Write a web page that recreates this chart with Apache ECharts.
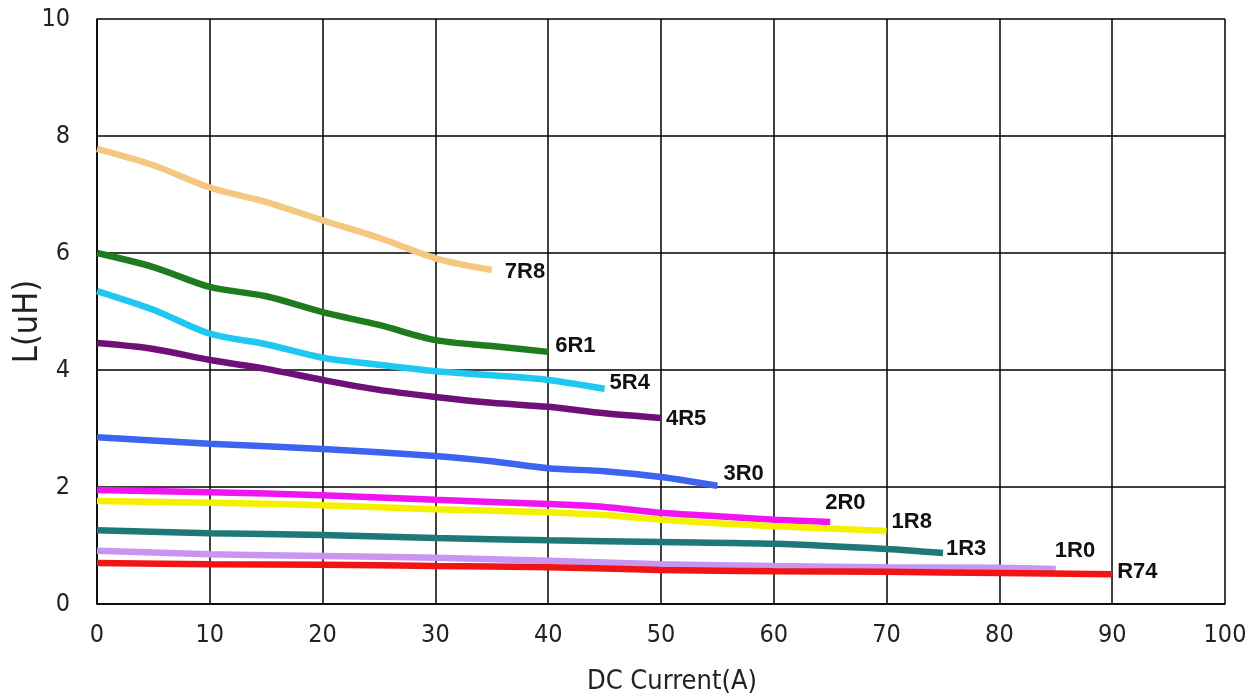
<!DOCTYPE html>
<html>
<head>
<meta charset="utf-8">
<script src="https://cdn.jsdelivr.net/npm/echarts@6/dist/echarts.min.js"></script>
<style>html,body{margin:0;padding:0;background:#fff;}#c{width:1251px;height:697px;}</style>
</head>
<body>
<div id="c"></div>
<script>
// ---- data ----
const seriesNames = ['7R8','6R1','5R4','4R5','3R0','2R0','1R8','1R3','1R0','R74'];
const s7R8 = [[0,7.78],[5,7.5],[10,7.12],[15,6.87],[20,6.56],[25,6.26],[30,5.91],[35,5.71]];
const s6R1 = [[0,6.0],[5,5.76],[10,5.42],[15,5.26],[20,4.99],[25,4.77],[30,4.51],[35,4.41],[40,4.31]];
const s5R4 = [[0,5.35],[5,5.03],[10,4.62],[15,4.44],[20,4.21],[25,4.09],[30,3.98],[35,3.91],[40,3.83],[45,3.68]];
const s4R5 = [[0,4.46],[5,4.36],[10,4.17],[15,4.02],[20,3.83],[25,3.66],[30,3.54],[35,3.44],[40,3.37],[45,3.26],[50,3.18]];
const s3R0 = [[0,2.85],[10,2.74],[20,2.65],[30,2.53],[35,2.44],[40,2.32],[45,2.27],[50,2.17],[55,2.02]];
const s2R0 = [[0,1.95],[10,1.91],[20,1.86],[30,1.78],[40,1.71],[45,1.66],[50,1.56],[55,1.50],[60,1.44],[65,1.40]];
const s1R8 = [[0,1.76],[10,1.73],[20,1.69],[30,1.62],[40,1.57],[45,1.52],[50,1.44],[60,1.33],[70,1.25]];
const s1R3 = [[0,1.26],[10,1.21],[20,1.18],[30,1.13],[40,1.09],[50,1.06],[60,1.03],[70,0.94],[75,0.87]];
const s1R0 = [[0,0.91],[10,0.85],[20,0.82],[30,0.79],[40,0.74],[50,0.68],[60,0.65],[70,0.63],[80,0.62],[85,0.60]];
const sR74 = [[0,0.70],[10,0.68],[20,0.67],[30,0.65],[40,0.63],[50,0.58],[60,0.56],[70,0.55],[80,0.53],[90,0.51]];
const seriesData = [s7R8,s6R1,s5R4,s4R5,s3R0,s2R0,s1R8,s1R3,s1R0,sR74];

// ---- styles ----
const colors = ['#F5C882','#1E7B1E','#1EC8F0','#6E1078','#3C64F0','#F014F0','#F5F000','#1E7878','#C896F0','#F01414'];
const labelOffsets = [[13,2],[7,-6],[5,-6],[5,1],[6,-12],[-5,-19],[5,-9],[3,-4],[-1,-18],[5,-2]];

const chart = echarts.init(document.getElementById('c'), null, {renderer:'canvas'});
const axisFont = "'DejaVu Sans Condensed','DejaVu Sans',sans-serif";
chart.setOption({
  backgroundColor:'#fff',
  animation:false,
  grid:{left:97, top:19, right:26, bottom:93, containLabel:false, outerBoundsMode:'none'},
  xAxis:{
    type:'value', min:0, max:100, interval:10,
    name:'DC Current(A)', nameLocation:'middle', nameGap:64, nameMoveOverlap:false,
    nameTextStyle:{fontFamily:axisFont, fontSize:27, color:'#222', padding:[0,0,0,22]},
    axisLine:{show:true, lineStyle:{color:'#000', width:1.5}},
    axisTick:{show:false},
    axisLabel:{fontFamily:axisFont, fontSize:25, color:'#222', margin:19},
    splitLine:{show:true, lineStyle:{color:'#000', width:1.5}}
  },
  yAxis:{
    type:'value', min:0, max:10, interval:2,
    name:'L(uH)', nameLocation:'middle', nameGap:52, nameMoveOverlap:false,
    nameTextStyle:{fontFamily:axisFont, fontSize:34, color:'#222', padding:[0,20,0,0]},
    axisLine:{show:true, lineStyle:{color:'#000', width:1.5}},
    axisTick:{show:false},
    axisLabel:{fontFamily:axisFont, fontSize:25, color:'#222', margin:27},
    splitLine:{show:true, lineStyle:{color:'#000', width:1.5}}
  },
  series: seriesNames.map((n,i)=>({
    name:n, type:'line', data:seriesData[i], smooth:0.3, symbol:'none',
    lineStyle:{color:colors[i], width:6.5, cap:'butt'},
    endLabel:{show:true, formatter:n, offset:labelOffsets[i], distance:0,
      fontFamily:"'Liberation Sans',Arial,sans-serif", fontWeight:'bold', fontSize:22, color:'#111'}
  }))
});
</script>
</body>
</html>
